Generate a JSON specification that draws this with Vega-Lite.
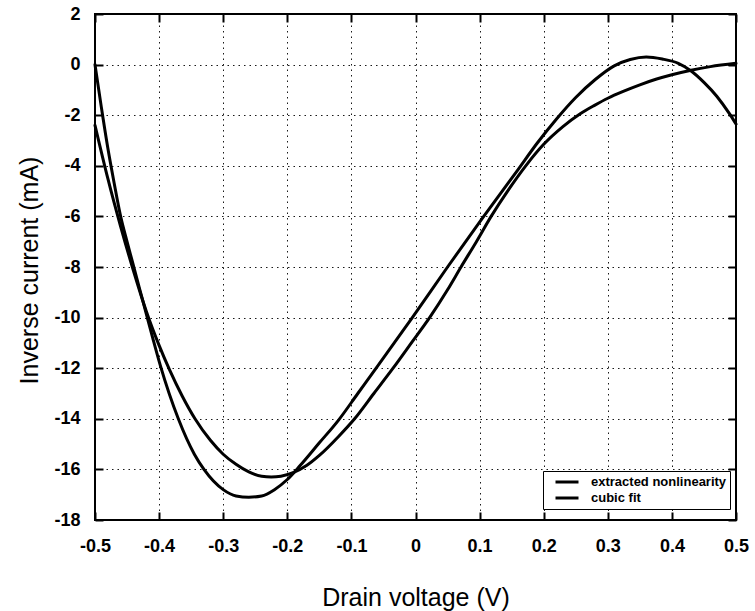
{
  "$schema": "https://vega.github.io/schema/vega-lite/v6.json",
  "width": 641,
  "height": 506,
  "autosize": "none",
  "padding": {"left": 95, "top": 14, "right": 19, "bottom": 91},
  "background": "white",
  "config": {
    "view": {"stroke": "black", "strokeWidth": 2},
    "font": "Liberation Sans",
    "axis": {
      "domain": false,
      "grid": false,
      "gridColor": "black",
      "gridDash": [1.5, 4],
      "gridWidth": 1,
      "gridOpacity": 0.9,
      "ticks": true,
      "tickColor": "black",
      "tickSize": -8,
      "tickWidth": 2,
      "tickOpacity": 1,
      "labelColor": "black",
      "labelFont": "Liberation Sans",
      "labelFontSize": 18,
      "labelFontWeight": "bold",
      "titleColor": "black",
      "titleFont": "Liberation Sans",
      "titleFontSize": 25,
      "titleFontWeight": "normal"
    }
  },
  "data": {
    "values": [
      {"series": "extracted nonlinearity", "v": -0.5, "i": 0},
      {"series": "extracted nonlinearity", "v": -0.49, "i": -1.7},
      {"series": "extracted nonlinearity", "v": -0.48, "i": -3.3},
      {"series": "extracted nonlinearity", "v": -0.47, "i": -4.7},
      {"series": "extracted nonlinearity", "v": -0.46, "i": -6.0},
      {"series": "extracted nonlinearity", "v": -0.45, "i": -7.0},
      {"series": "extracted nonlinearity", "v": -0.44, "i": -7.95},
      {"series": "extracted nonlinearity", "v": -0.43, "i": -8.9},
      {"series": "extracted nonlinearity", "v": -0.42, "i": -9.85},
      {"series": "extracted nonlinearity", "v": -0.41, "i": -10.8},
      {"series": "extracted nonlinearity", "v": -0.398, "i": -11.9},
      {"series": "extracted nonlinearity", "v": -0.37, "i": -14},
      {"series": "extracted nonlinearity", "v": -0.345, "i": -15.4},
      {"series": "extracted nonlinearity", "v": -0.33, "i": -16},
      {"series": "extracted nonlinearity", "v": -0.3, "i": -16.8},
      {"series": "extracted nonlinearity", "v": -0.28, "i": -17.05},
      {"series": "extracted nonlinearity", "v": -0.26, "i": -17.1},
      {"series": "extracted nonlinearity", "v": -0.24, "i": -17.05},
      {"series": "extracted nonlinearity", "v": -0.22, "i": -16.8},
      {"series": "extracted nonlinearity", "v": -0.2, "i": -16.4},
      {"series": "extracted nonlinearity", "v": -0.18, "i": -15.85},
      {"series": "extracted nonlinearity", "v": -0.15, "i": -14.95},
      {"series": "extracted nonlinearity", "v": -0.12, "i": -14.05},
      {"series": "extracted nonlinearity", "v": -0.09, "i": -13.0},
      {"series": "extracted nonlinearity", "v": -0.06, "i": -11.95},
      {"series": "extracted nonlinearity", "v": -0.005, "i": -10.0},
      {"series": "extracted nonlinearity", "v": 0.05, "i": -8.0},
      {"series": "extracted nonlinearity", "v": 0.105, "i": -6.05},
      {"series": "extracted nonlinearity", "v": 0.16, "i": -4.15},
      {"series": "extracted nonlinearity", "v": 0.19, "i": -3.1},
      {"series": "extracted nonlinearity", "v": 0.22, "i": -2.15},
      {"series": "extracted nonlinearity", "v": 0.25, "i": -1.3},
      {"series": "extracted nonlinearity", "v": 0.28, "i": -0.6},
      {"series": "extracted nonlinearity", "v": 0.31, "i": -0.05},
      {"series": "extracted nonlinearity", "v": 0.335, "i": 0.2},
      {"series": "extracted nonlinearity", "v": 0.36, "i": 0.3},
      {"series": "extracted nonlinearity", "v": 0.385, "i": 0.22},
      {"series": "extracted nonlinearity", "v": 0.41, "i": 0.05},
      {"series": "extracted nonlinearity", "v": 0.43, "i": -0.25},
      {"series": "extracted nonlinearity", "v": 0.45, "i": -0.7},
      {"series": "extracted nonlinearity", "v": 0.47, "i": -1.25},
      {"series": "extracted nonlinearity", "v": 0.49, "i": -1.95},
      {"series": "extracted nonlinearity", "v": 0.5, "i": -2.35},
      {"series": "cubic fit", "v": -0.5, "i": -2.4},
      {"series": "cubic fit", "v": -0.48, "i": -4.5},
      {"series": "cubic fit", "v": -0.46, "i": -6.4},
      {"series": "cubic fit", "v": -0.44, "i": -8.15},
      {"series": "cubic fit", "v": -0.42, "i": -9.75},
      {"series": "cubic fit", "v": -0.4, "i": -11.1},
      {"series": "cubic fit", "v": -0.384, "i": -12.05},
      {"series": "cubic fit", "v": -0.364, "i": -13.1},
      {"series": "cubic fit", "v": -0.344, "i": -14},
      {"series": "cubic fit", "v": -0.32, "i": -14.85},
      {"series": "cubic fit", "v": -0.3, "i": -15.4},
      {"series": "cubic fit", "v": -0.28, "i": -15.8},
      {"series": "cubic fit", "v": -0.26, "i": -16.1},
      {"series": "cubic fit", "v": -0.24, "i": -16.27},
      {"series": "cubic fit", "v": -0.225, "i": -16.3},
      {"series": "cubic fit", "v": -0.21, "i": -16.27},
      {"series": "cubic fit", "v": -0.19, "i": -16.12},
      {"series": "cubic fit", "v": -0.17, "i": -15.85},
      {"series": "cubic fit", "v": -0.15, "i": -15.45},
      {"series": "cubic fit", "v": -0.12, "i": -14.7},
      {"series": "cubic fit", "v": -0.095, "i": -14.0},
      {"series": "cubic fit", "v": -0.065, "i": -13.0},
      {"series": "cubic fit", "v": -0.035, "i": -12.0},
      {"series": "cubic fit", "v": -0.005, "i": -10.95},
      {"series": "cubic fit", "v": 0.022, "i": -10.0},
      {"series": "cubic fit", "v": 0.05, "i": -8.9},
      {"series": "cubic fit", "v": 0.071, "i": -8.0},
      {"series": "cubic fit", "v": 0.095, "i": -7.0},
      {"series": "cubic fit", "v": 0.118, "i": -6.0},
      {"series": "cubic fit", "v": 0.145, "i": -4.95},
      {"series": "cubic fit", "v": 0.172, "i": -4.0},
      {"series": "cubic fit", "v": 0.2, "i": -3.15},
      {"series": "cubic fit", "v": 0.23, "i": -2.45},
      {"series": "cubic fit", "v": 0.257, "i": -1.94},
      {"series": "cubic fit", "v": 0.28, "i": -1.6},
      {"series": "cubic fit", "v": 0.3, "i": -1.33},
      {"series": "cubic fit", "v": 0.325, "i": -1.05},
      {"series": "cubic fit", "v": 0.35, "i": -0.8},
      {"series": "cubic fit", "v": 0.375, "i": -0.58},
      {"series": "cubic fit", "v": 0.4, "i": -0.4},
      {"series": "cubic fit", "v": 0.43, "i": -0.22},
      {"series": "cubic fit", "v": 0.46, "i": -0.08},
      {"series": "cubic fit", "v": 0.5, "i": 0.05}
    ]
  },
  "resolve": {"axis": {"x": "independent", "y": "independent"}},
  "layer": [
    {
      "mark": {"type": "line", "strokeWidth": 3, "interpolate": "monotone", "strokeCap": "round", "strokeJoin": "round"},
      "encoding": {
        "x": {
          "field": "v", "type": "quantitative",
          "scale": {"domain": [-0.5, 0.5], "nice": false, "zero": false},
          "axis": {
            "title": "Drain voltage (V)",
            "grid": true,
            "values": [-0.5, -0.4, -0.3, -0.2, -0.1, 0, 0.1, 0.2, 0.3, 0.4, 0.5],
            "labelExpr": "replace(format(datum.value, '.1~f'), '\u2212', '-')",
            "labelPadding": 25,
            "labelFlush": false,
            "titleY": 77,
            "titleBaseline": "middle"
          }
        },
        "y": {
          "field": "i", "type": "quantitative",
          "scale": {"domain": [-18, 2], "nice": false, "zero": false},
          "axis": {
            "title": "Inverse current (mA)",
            "grid": true,
            "values": [-18, -16, -14, -12, -10, -8, -6, -4, -2, 0, 2],
            "labelExpr": "replace(format(datum.value, 'd'), '\u2212', '-')",
            "labelPadding": 23,
            "titleX": -66,
            "titleY": 256,
            "titleBaseline": "middle"
          }
        },
        "color": {
          "field": "series", "type": "nominal",
          "scale": {"domain": ["extracted nonlinearity", "cubic fit"], "range": ["black", "black"]},
          "legend": {
            "title": null,
            "orient": "none",
            "legendX": 448,
            "legendY": 457,
            "direction": "vertical",
            "symbolType": "stroke",
            "symbolStrokeWidth": 3,
            "symbolSize": 529,
            "symbolStrokeColor": "black",
            "symbolOffset": 8,
            "clipHeight": 16,
            "labelFont": "Liberation Sans",
            "labelFontSize": 13,
            "labelFontWeight": "bold",
            "labelColor": "black",
            "labelOffset": 11,
            "strokeColor": "black",
            "fillColor": "white",
            "padding": 3,
            "rowPadding": 0,
            "cornerRadius": 0
          }
        }
      }
    },
    {
      "mark": {"type": "point", "opacity": 0},
      "encoding": {
        "x": {
          "field": "v", "type": "quantitative",
          "scale": {"domain": [-0.5, 0.5], "nice": false, "zero": false},
          "axis": {"orient": "top", "title": null, "labels": false,
                   "values": [-0.5, -0.4, -0.3, -0.2, -0.1, 0, 0.1, 0.2, 0.3, 0.4, 0.5]}
        },
        "y": {
          "field": "i", "type": "quantitative",
          "scale": {"domain": [-18, 2], "nice": false, "zero": false},
          "axis": {"orient": "right", "title": null, "labels": false,
                   "values": [-18, -16, -14, -12, -10, -8, -6, -4, -2, 0, 2]}
        }
      }
    }
  ]
}
